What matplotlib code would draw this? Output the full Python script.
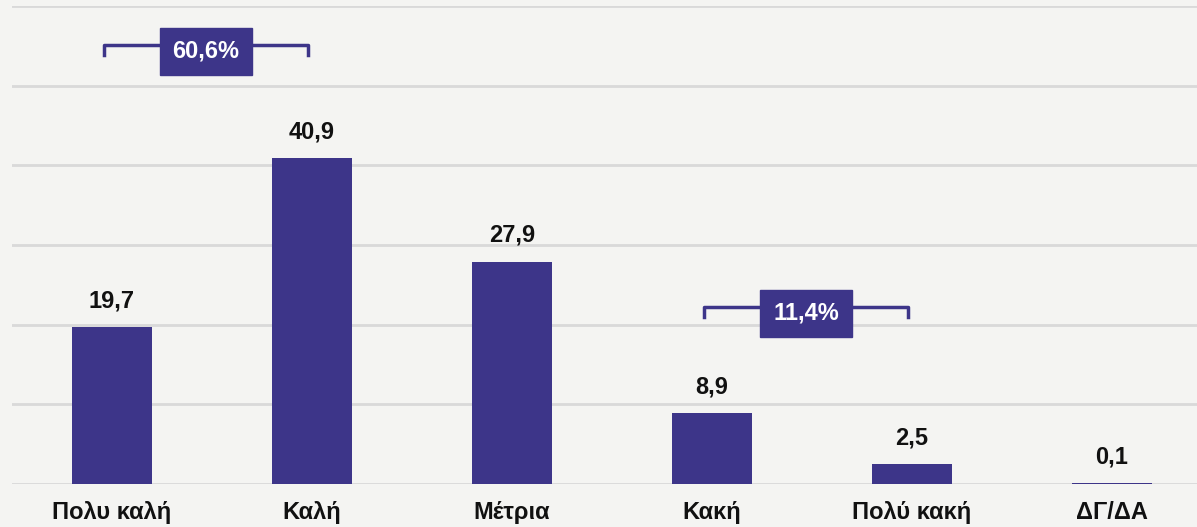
import matplotlib
matplotlib.use('Agg')
import matplotlib.pyplot as plt
from matplotlib.patches import Rectangle

# ── DATA ──────────────────────────────────────────────────────────────────────
categories = ["Πολυ καλή", "Καλή", "Μέτρια", "Κακή", "Πολύ κακή", "ΔΓ/ΔΑ"]
values = [19.7, 40.9, 27.9, 8.9, 2.5, 0.1]
value_labels = ["19,7", "40,9", "27,9", "8,9", "2,5", "0,1"]

# grouped totals: (first index, last index, label)
groups = [(0, 1, "60,6%"), (3, 4, "11,4%")]

BAR = "#3d3589"
BG = "#f4f4f2"
GRID = "#d9d9d9"

plt.rcParams['font.family'] = ['Liberation Sans', 'DejaVu Sans']

fig = plt.figure(figsize=(11.97, 5.27), dpi=100, facecolor=BG)
ax = fig.add_axes([12 / 1197, 43 / 527, 1 - 12 / 1197, 478 / 527])
ax.set_facecolor(BG)

x = list(range(len(categories)))
ax.bar(x, values, width=0.4, color=BAR, zorder=3)

ax.set_xlim(-0.5, 5.425)
ax.set_ylim(0, 60)
ax.set_yticks(range(0, 61, 10))
ax.yaxis.grid(True, color=GRID, lw=2, zorder=0)
ax.tick_params(axis='y', left=False, labelleft=False)
ax.tick_params(axis='x', bottom=False, pad=9)
ax.set_xticks(x)
ax.set_xticklabels(categories, fontsize=17, fontweight='bold', color='#111111')
for s in ax.spines.values():
    s.set_visible(False)

for xi, v, lab in zip(x, values, value_labels):
    ax.annotate(lab, (xi, v), xytext=(0, 19), textcoords='offset points',
                ha='center', va='center', fontsize=17, fontweight='bold',
                color='#111111')

# brackets with total boxes
bracket_y = {"60,6%": 55.1, "11,4%": 22.2}
for i0, i1, lab in groups:
    y = bracket_y[lab]
    xl, xr = i0 - 0.04, i1 - 0.02
    ax.plot([xl, xl, xr, xr], [y - 1.2, y, y, y - 1.2], color=BAR, lw=2.5,
            solid_joinstyle='round', zorder=4)
    xc = (xl + xr) / 2
    ax.add_patch(Rectangle((xc - 0.23, y - 3.7), 0.46, 5.9, color=BAR, zorder=5))
    ax.text(xc, y - 0.75, lab, ha='center', va='center', fontsize=17,
            fontweight='bold', color='white', zorder=6)

fig.savefig("out.png", dpi=100, facecolor=BG)
